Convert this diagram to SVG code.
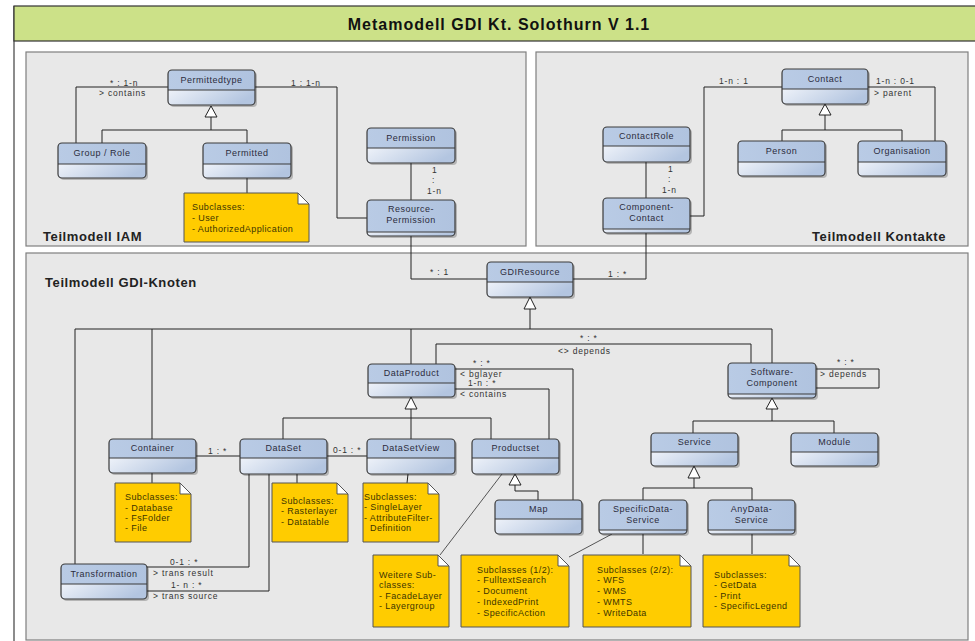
<svg xmlns="http://www.w3.org/2000/svg" width="975" height="641" viewBox="0 0 975 641">
<defs>
<linearGradient id="gb" x1="0" y1="0" x2="1" y2="0.3">
<stop offset="0" stop-color="#eef2f9"/>
<stop offset="1" stop-color="#b3c5e0"/>
</linearGradient>
<linearGradient id="gh" x1="0" y1="0" x2="1" y2="0">
<stop offset="0" stop-color="#b9cbe5"/>
<stop offset="1" stop-color="#b0c3df"/>
</linearGradient>
</defs>
<style>
.panel{fill:#e8e8e8;stroke:#7f7f7f;stroke-width:1.2}
.sh{fill:#000;opacity:0.22}
.hd{fill:url(#gh)}
.bd{fill:url(#gb)}
.ol{fill:none;stroke:#3a3a3a;stroke-width:1.2}
.sep{stroke:#3a3a3a;stroke-width:1}
.nm{font-family:"Liberation Sans",Arial,sans-serif;font-size:9px;letter-spacing:0.5px;fill:#2c2c3c;text-anchor:middle}
.lb{font-family:"Liberation Sans",Arial,sans-serif;font-size:8.5px;letter-spacing:0.8px;fill:#333}
.note{fill:#ffcc00;stroke:#555;stroke-width:1}
.fold{fill:#fff;stroke:#555;stroke-width:1}
.nt{font-family:"Liberation Sans",Arial,sans-serif;font-size:9px;letter-spacing:0.4px;fill:#3d3500}
.pt{font-family:"Liberation Sans",Arial,sans-serif;font-size:13px;font-weight:bold;letter-spacing:0.6px;fill:#222}
.cn path,.cn line{fill:none;stroke:#222;stroke-width:1}
.cn .tri{fill:#fff;stroke:#222;stroke-width:1}
.cn .nl{stroke:#555}
</style>
<rect x="0" y="0" width="975" height="641" fill="#fff"/>
<line x1="14" y1="6" x2="14" y2="641" stroke="#666" stroke-width="1.5"/>
<rect x="14" y="6" width="975" height="35" fill="#cce188" stroke="#333" stroke-width="1.2"/>
<text x="499" y="30" text-anchor="middle" font-family="Liberation Sans,Arial,sans-serif" font-size="16" font-weight="bold" letter-spacing="1" fill="#111">Metamodell GDI Kt. Solothurn V 1.1</text>

<g id="panels">
<rect class="panel" x="26" y="52" width="500" height="194"/>
<rect class="panel" x="536" y="52" width="432" height="194"/>
<rect class="panel" x="26" y="253" width="942" height="387"/>
<text class="pt" x="43" y="241">Teilmodell IAM</text>
<text class="pt" x="946" y="241" text-anchor="end">Teilmodell Kontakte</text>
<text class="pt" x="45" y="287">Teilmodell GDI-Knoten</text>
</g>

<g id="connectors" class="cn">
<!-- IAM -->
<path d="M102,143 V130 H247 V143 M211,130 V117"/>
<polygon class="tri" points="211,106 205,117 217,117"/>
<path d="M76,143 V87 H168"/>
<path d="M255,87 H337 V218 H367"/>
<path d="M411,163 V200"/>
<path d="M247,178 V193"/>
<path d="M411,236 V279 H487"/>
<!-- Kontakte -->
<path d="M782,141 V130 H902 V141 M825,130 V115"/>
<polygon class="tri" points="825,104 819,115 831,115"/>
<path d="M782,87 H704 V216 H690"/>
<path d="M868,87 H935 V141"/>
<path d="M646,162 V198"/>
<path d="M646,233 V279 H573"/>
<!-- GDI -->
<path d="M75,564 V329 H772 V363 M152,329 V439 M411,329 V364 M530,329 V309"/>
<polygon class="tri" points="530,297 524,309 536,309"/>
<path d="M436,364 V344 H751 V363"/>
<path d="M455,369 H573 V500"/>
<path d="M455,389 H549 V439"/>
<path d="M283,439 V418 H491 V439 M411,439 V409"/>
<polygon class="tri" points="411,397 405,409 417,409"/>
<path d="M196,456 H240"/>
<path d="M327,456 H367"/>
<path d="M152,473 V483"/>
<path d="M297,474 V483"/>
<path d="M408,474 L407,483"/>
<path d="M249,474 V567 H147"/>
<path d="M269,474 V591 H147"/>
<path d="M538,500 V491 H515 V485"/>
<polygon class="tri" points="515,474 509,485 521,485"/>
<path class="nl" d="M502,474 L440,555"/>
<path class="nl" d="M569,557 L612,534"/>
<path d="M643,534 V554"/>
<path d="M752,534 V554"/>
<path d="M816,369 H879 V388 H816"/>
<path d="M693,433 V421 H834 V433 M772,421 V409"/>
<polygon class="tri" points="772,398 766,409 778,409"/>
<path d="M643,500 V488 H752 V500 M694,488 V478"/>
<polygon class="tri" points="694,466 688,478 700,478"/>
<!-- labels -->
<text class="lb" x="110" y="86">* : 1-n</text>
<text class="lb" x="99" y="96">&gt; contains</text>
<text class="lb" x="291" y="86">1  : 1-n</text>
<text class="lb" x="432" y="173">1</text>
<text class="lb" x="432" y="183">:</text>
<text class="lb" x="427" y="194">1-n</text>
<text class="lb" x="719" y="84">1-n : 1</text>
<text class="lb" x="876" y="84">1-n : 0-1</text>
<text class="lb" x="874" y="96">&gt; parent</text>
<text class="lb" x="668" y="172">1</text>
<text class="lb" x="668" y="182">:</text>
<text class="lb" x="662" y="193">1-n</text>
<text class="lb" x="430" y="275">* : 1</text>
<text class="lb" x="608" y="277">1 : *</text>
<text class="lb" x="580" y="341">* : *</text>
<text class="lb" x="558" y="354">&lt;&gt; depends</text>
<text class="lb" x="473" y="366">* : *</text>
<text class="lb" x="460" y="377">&lt; bglayer</text>
<text class="lb" x="468" y="386">1-n : *</text>
<text class="lb" x="460" y="397">&lt; contains</text>
<text class="lb" x="837" y="365">* : *</text>
<text class="lb" x="820" y="377">&gt; depends</text>
<text class="lb" x="208" y="454">1 : *</text>
<text class="lb" x="333" y="453">0-1 : *</text>
<text class="lb" x="170" y="565">0-1 : *</text>
<text class="lb" x="153" y="576">&gt; trans result</text>
<text class="lb" x="171" y="588">1- n : *</text>
<text class="lb" x="153" y="599">&gt; trans source</text>
</g>

<!-- IAM nodes -->
<g id="permittedtype">
<rect class="sh" x="170" y="72" width="87" height="35" rx="4"/>
<rect class="hd" x="168" y="70" width="87" height="35" rx="4"/>
<path class="bd" d="M168,90 H255 V101 Q255,105 251,105 H172 Q168,105 168,101 Z"/>
<line class="sep" x1="168" y1="90" x2="255" y2="90"/>
<rect class="ol" x="168" y="70" width="87" height="35" rx="4"/>
<text class="nm" x="211.5" y="83">Permittedtype</text>
</g>
<g id="group-role">
<rect class="sh" x="60" y="145" width="88" height="35" rx="4"/>
<rect class="hd" x="58" y="143" width="88" height="35" rx="4"/>
<path class="bd" d="M58,164 H146 V174 Q146,178 142,178 H62 Q58,178 58,174 Z"/>
<line class="sep" x1="58" y1="164" x2="146" y2="164"/>
<rect class="ol" x="58" y="143" width="88" height="35" rx="4"/>
<text class="nm" x="102" y="156">Group / Role</text>
</g>
<g id="permitted">
<rect class="sh" x="205" y="145" width="88" height="35" rx="4"/>
<rect class="hd" x="203" y="143" width="88" height="35" rx="4"/>
<path class="bd" d="M203,164 H291 V174 Q291,178 287,178 H207 Q203,178 203,174 Z"/>
<line class="sep" x1="203" y1="164" x2="291" y2="164"/>
<rect class="ol" x="203" y="143" width="88" height="35" rx="4"/>
<text class="nm" x="247" y="156">Permitted</text>
</g>
<g id="permission">
<rect class="sh" x="369" y="130" width="88" height="35" rx="4"/>
<rect class="hd" x="367" y="128" width="88" height="35" rx="4"/>
<path class="bd" d="M367,148 H455 V159 Q455,163 451,163 H371 Q367,163 367,159 Z"/>
<line class="sep" x1="367" y1="148" x2="455" y2="148"/>
<rect class="ol" x="367" y="128" width="88" height="35" rx="4"/>
<text class="nm" x="411" y="141">Permission</text>
</g>
<g id="resource-permission">
<rect class="sh" x="369" y="202" width="88" height="36" rx="4"/>
<rect class="hd" x="367" y="200" width="88" height="36" rx="4"/>
<path class="bd" d="M367,232 H455 V233 Q455,236 452,236 H370 Q367,236 367,233 Z"/>
<line class="sep" x1="367" y1="232" x2="455" y2="232"/>
<rect class="ol" x="367" y="200" width="88" height="36" rx="4"/>
<text class="nm" x="411" y="212">Resource-</text>
<text class="nm" x="411" y="223">Permission</text>
</g>
<g id="note-permitted">
<path class="note" d="M184,193 H298 L309,204 V242 H184 Z"/>
<path class="fold" d="M298,193 V204 H309 Z"/>
<text class="nt" x="192" y="210">Subclasses:</text>
<text class="nt" x="192" y="221">- User</text>
<text class="nt" x="192" y="232">- AuthorizedApplication</text>
</g>

<!-- Kontakte nodes -->
<g id="contact">
<rect class="sh" x="784" y="71" width="86" height="35" rx="4"/>
<rect class="hd" x="782" y="69" width="86" height="35" rx="4"/>
<path class="bd" d="M782,89 H868 V100 Q868,104 864,104 H786 Q782,104 782,100 Z"/>
<line class="sep" x1="782" y1="89" x2="868" y2="89"/>
<rect class="ol" x="782" y="69" width="86" height="35" rx="4"/>
<text class="nm" x="825" y="82">Contact</text>
</g>
<g id="contactrole">
<rect class="sh" x="605" y="129" width="87" height="35" rx="4"/>
<rect class="hd" x="603" y="127" width="87" height="35" rx="4"/>
<path class="bd" d="M603,146 H690 V158 Q690,162 686,162 H607 Q603,162 603,158 Z"/>
<line class="sep" x1="603" y1="146" x2="690" y2="146"/>
<rect class="ol" x="603" y="127" width="87" height="35" rx="4"/>
<text class="nm" x="646.5" y="139">ContactRole</text>
</g>
<g id="component-contact">
<rect class="sh" x="605" y="200" width="87" height="35" rx="4"/>
<rect class="hd" x="603" y="198" width="87" height="35" rx="4"/>
<path class="bd" d="M603,229 H690 V230 Q690,233 687,233 H606 Q603,233 603,230 Z"/>
<line class="sep" x1="603" y1="229" x2="690" y2="229"/>
<rect class="ol" x="603" y="198" width="87" height="35" rx="4"/>
<text class="nm" x="646.5" y="210">Component-</text>
<text class="nm" x="646.5" y="221">Contact</text>
</g>
<g id="person">
<rect class="sh" x="740" y="143" width="87" height="35" rx="4"/>
<rect class="hd" x="738" y="141" width="87" height="35" rx="4"/>
<path class="bd" d="M738,162 H825 V172 Q825,176 821,176 H742 Q738,176 738,172 Z"/>
<line class="sep" x1="738" y1="162" x2="825" y2="162"/>
<rect class="ol" x="738" y="141" width="87" height="35" rx="4"/>
<text class="nm" x="781.5" y="154">Person</text>
</g>
<g id="organisation">
<rect class="sh" x="860" y="143" width="88" height="35" rx="4"/>
<rect class="hd" x="858" y="141" width="88" height="35" rx="4"/>
<path class="bd" d="M858,162 H946 V172 Q946,176 942,176 H862 Q858,176 858,172 Z"/>
<line class="sep" x1="858" y1="162" x2="946" y2="162"/>
<rect class="ol" x="858" y="141" width="88" height="35" rx="4"/>
<text class="nm" x="902" y="154">Organisation</text>
</g>

<!-- GDI nodes -->
<g id="gdiresource">
<rect class="sh" x="489" y="264" width="86" height="35" rx="4"/>
<rect class="hd" x="487" y="262" width="86" height="35" rx="4"/>
<path class="bd" d="M487,282 H573 V293 Q573,297 569,297 H491 Q487,297 487,293 Z"/>
<line class="sep" x1="487" y1="282" x2="573" y2="282"/>
<rect class="ol" x="487" y="262" width="86" height="35" rx="4"/>
<text class="nm" x="530" y="275">GDIResource</text>
</g>
<g id="dataproduct">
<rect class="sh" x="370" y="366" width="87" height="33" rx="4"/>
<rect class="hd" x="368" y="364" width="87" height="33" rx="4"/>
<path class="bd" d="M368,383 H455 V393 Q455,397 451,397 H372 Q368,397 368,393 Z"/>
<line class="sep" x1="368" y1="383" x2="455" y2="383"/>
<rect class="ol" x="368" y="364" width="87" height="33" rx="4"/>
<text class="nm" x="411.5" y="376">DataProduct</text>
</g>
<g id="software-component">
<rect class="sh" x="730" y="365" width="88" height="35" rx="4"/>
<rect class="hd" x="728" y="363" width="88" height="35" rx="4"/>
<path class="bd" d="M728,394 H816 V395 Q816,398 813,398 H731 Q728,398 728,395 Z"/>
<line class="sep" x1="728" y1="394" x2="816" y2="394"/>
<rect class="ol" x="728" y="363" width="88" height="35" rx="4"/>
<text class="nm" x="772" y="375">Software-</text>
<text class="nm" x="772" y="386">Component</text>
</g>
<g id="container">
<rect class="sh" x="111" y="441" width="87" height="34" rx="4"/>
<rect class="hd" x="109" y="439" width="87" height="34" rx="4"/>
<path class="bd" d="M109,458 H196 V469 Q196,473 192,473 H113 Q109,473 109,469 Z"/>
<line class="sep" x1="109" y1="458" x2="196" y2="458"/>
<rect class="ol" x="109" y="439" width="87" height="34" rx="4"/>
<text class="nm" x="152.5" y="451">Container</text>
</g>
<g id="dataset">
<rect class="sh" x="242" y="441" width="87" height="35" rx="4"/>
<rect class="hd" x="240" y="439" width="87" height="35" rx="4"/>
<path class="bd" d="M240,458 H327 V470 Q327,474 323,474 H244 Q240,474 240,470 Z"/>
<line class="sep" x1="240" y1="458" x2="327" y2="458"/>
<rect class="ol" x="240" y="439" width="87" height="35" rx="4"/>
<text class="nm" x="283.5" y="451">DataSet</text>
</g>
<g id="datasetview">
<rect class="sh" x="369" y="441" width="88" height="35" rx="4"/>
<rect class="hd" x="367" y="439" width="88" height="35" rx="4"/>
<path class="bd" d="M367,458 H455 V470 Q455,474 451,474 H371 Q367,474 367,470 Z"/>
<line class="sep" x1="367" y1="458" x2="455" y2="458"/>
<rect class="ol" x="367" y="439" width="88" height="35" rx="4"/>
<text class="nm" x="411" y="451">DataSetView</text>
</g>
<g id="productset">
<rect class="sh" x="474" y="441" width="87" height="35" rx="4"/>
<rect class="hd" x="472" y="439" width="87" height="35" rx="4"/>
<path class="bd" d="M472,458 H559 V470 Q559,474 555,474 H476 Q472,474 472,470 Z"/>
<line class="sep" x1="472" y1="458" x2="559" y2="458"/>
<rect class="ol" x="472" y="439" width="87" height="35" rx="4"/>
<text class="nm" x="515.5" y="451">Productset</text>
</g>
<g id="service">
<rect class="sh" x="653" y="435" width="87" height="33" rx="4"/>
<rect class="hd" x="651" y="433" width="87" height="33" rx="4"/>
<path class="bd" d="M651,452 H738 V462 Q738,466 734,466 H655 Q651,466 651,462 Z"/>
<line class="sep" x1="651" y1="452" x2="738" y2="452"/>
<rect class="ol" x="651" y="433" width="87" height="33" rx="4"/>
<text class="nm" x="694.5" y="445">Service</text>
</g>
<g id="module">
<rect class="sh" x="793" y="435" width="87" height="33" rx="4"/>
<rect class="hd" x="791" y="433" width="87" height="33" rx="4"/>
<path class="bd" d="M791,452 H878 V462 Q878,466 874,466 H795 Q791,466 791,462 Z"/>
<line class="sep" x1="791" y1="452" x2="878" y2="452"/>
<rect class="ol" x="791" y="433" width="87" height="33" rx="4"/>
<text class="nm" x="834.5" y="445">Module</text>
</g>
<g id="map">
<rect class="sh" x="497" y="502" width="87" height="34" rx="4"/>
<rect class="hd" x="495" y="500" width="87" height="34" rx="4"/>
<path class="bd" d="M495,519 H582 V530 Q582,534 578,534 H499 Q495,534 495,530 Z"/>
<line class="sep" x1="495" y1="519" x2="582" y2="519"/>
<rect class="ol" x="495" y="500" width="87" height="34" rx="4"/>
<text class="nm" x="538.5" y="512">Map</text>
</g>
<g id="specificdata-service">
<rect class="sh" x="601" y="502" width="88" height="34" rx="4"/>
<rect class="hd" x="599" y="500" width="88" height="34" rx="4"/>
<path class="bd" d="M599,530 H687 V531 Q687,534 684,534 H602 Q599,534 599,531 Z"/>
<line class="sep" x1="599" y1="530" x2="687" y2="530"/>
<rect class="ol" x="599" y="500" width="88" height="34" rx="4"/>
<text class="nm" x="643" y="512">SpecificData-</text>
<text class="nm" x="643" y="523">Service</text>
</g>
<g id="anydata-service">
<rect class="sh" x="710" y="502" width="87" height="34" rx="4"/>
<rect class="hd" x="708" y="500" width="87" height="34" rx="4"/>
<path class="bd" d="M708,530 H795 V531 Q795,534 792,534 H711 Q708,534 708,531 Z"/>
<line class="sep" x1="708" y1="530" x2="795" y2="530"/>
<rect class="ol" x="708" y="500" width="87" height="34" rx="4"/>
<text class="nm" x="751.5" y="512">AnyData-</text>
<text class="nm" x="751.5" y="523">Service</text>
</g>
<g id="transformation">
<rect class="sh" x="63" y="566" width="86" height="35" rx="4"/>
<rect class="hd" x="61" y="564" width="86" height="35" rx="4"/>
<path class="bd" d="M61,584 H147 V595 Q147,599 143,599 H65 Q61,599 61,595 Z"/>
<line class="sep" x1="61" y1="584" x2="147" y2="584"/>
<rect class="ol" x="61" y="564" width="86" height="35" rx="4"/>
<text class="nm" x="104" y="577">Transformation</text>
</g>

<!-- notes -->
<g id="note-container">
<path class="note" d="M115,483 H180 L191,494 V542 H115 Z"/>
<path class="fold" d="M180,483 V494 H191 Z"/>
<text class="nt" x="125" y="500">Subclasses:</text>
<text class="nt" x="125" y="511">- Database</text>
<text class="nt" x="125" y="521">- FsFolder</text>
<text class="nt" x="125" y="531">- File</text>
</g>
<g id="note-dataset">
<path class="note" d="M272,483 H337 L348,494 V542 H272 Z"/>
<path class="fold" d="M337,483 V494 H348 Z"/>
<text class="nt" x="281" y="504">Subclasses:</text>
<text class="nt" x="281" y="514">- Rasterlayer</text>
<text class="nt" x="281" y="525">- Datatable</text>
</g>
<g id="note-datasetview">
<path class="note" d="M363,483 H428 L439,494 V542 H363 Z"/>
<path class="fold" d="M428,483 V494 H439 Z"/>
<text class="nt" x="364" y="500">Subclasses:</text>
<text class="nt" x="364" y="510">- SingleLayer</text>
<text class="nt" x="364" y="521">- AttributeFilter-</text>
<text class="nt" x="370" y="531">Definition</text>
</g>
<g id="note-productset">
<path class="note" d="M373,555 H438 L449,566 V627 H373 Z"/>
<path class="fold" d="M438,555 V566 H449 Z"/>
<text class="nt" x="379" y="578">Weitere Sub-</text>
<text class="nt" x="379" y="588">classes:</text>
<text class="nt" x="379" y="599">- FacadeLayer</text>
<text class="nt" x="379" y="609">- Layergroup</text>
</g>
<g id="note-specific1">
<path class="note" d="M461,555 H558 L569,566 V627 H461 Z"/>
<path class="fold" d="M558,555 V566 H569 Z"/>
<text class="nt" x="477" y="573">Subclasses (1/2):</text>
<text class="nt" x="477" y="583">- FulltextSearch</text>
<text class="nt" x="477" y="594">- Document</text>
<text class="nt" x="477" y="605">- IndexedPrint</text>
<text class="nt" x="477" y="616">- SpecificAction</text>
</g>
<g id="note-specific2">
<path class="note" d="M583,555 H680 L691,566 V627 H583 Z"/>
<path class="fold" d="M680,555 V566 H691 Z"/>
<text class="nt" x="597" y="573">Subclasses (2/2):</text>
<text class="nt" x="597" y="583">- WFS</text>
<text class="nt" x="597" y="594">- WMS</text>
<text class="nt" x="597" y="605">- WMTS</text>
<text class="nt" x="597" y="616">- WriteData</text>
</g>
<g id="note-anydata">
<path class="note" d="M703,555 H789 L800,566 V627 H703 Z"/>
<path class="fold" d="M789,555 V566 H800 Z"/>
<text class="nt" x="714" y="578">Subclasses:</text>
<text class="nt" x="714" y="588">- GetData</text>
<text class="nt" x="714" y="599">- Print</text>
<text class="nt" x="714" y="609">- SpecificLegend</text>
</g>
</svg>
